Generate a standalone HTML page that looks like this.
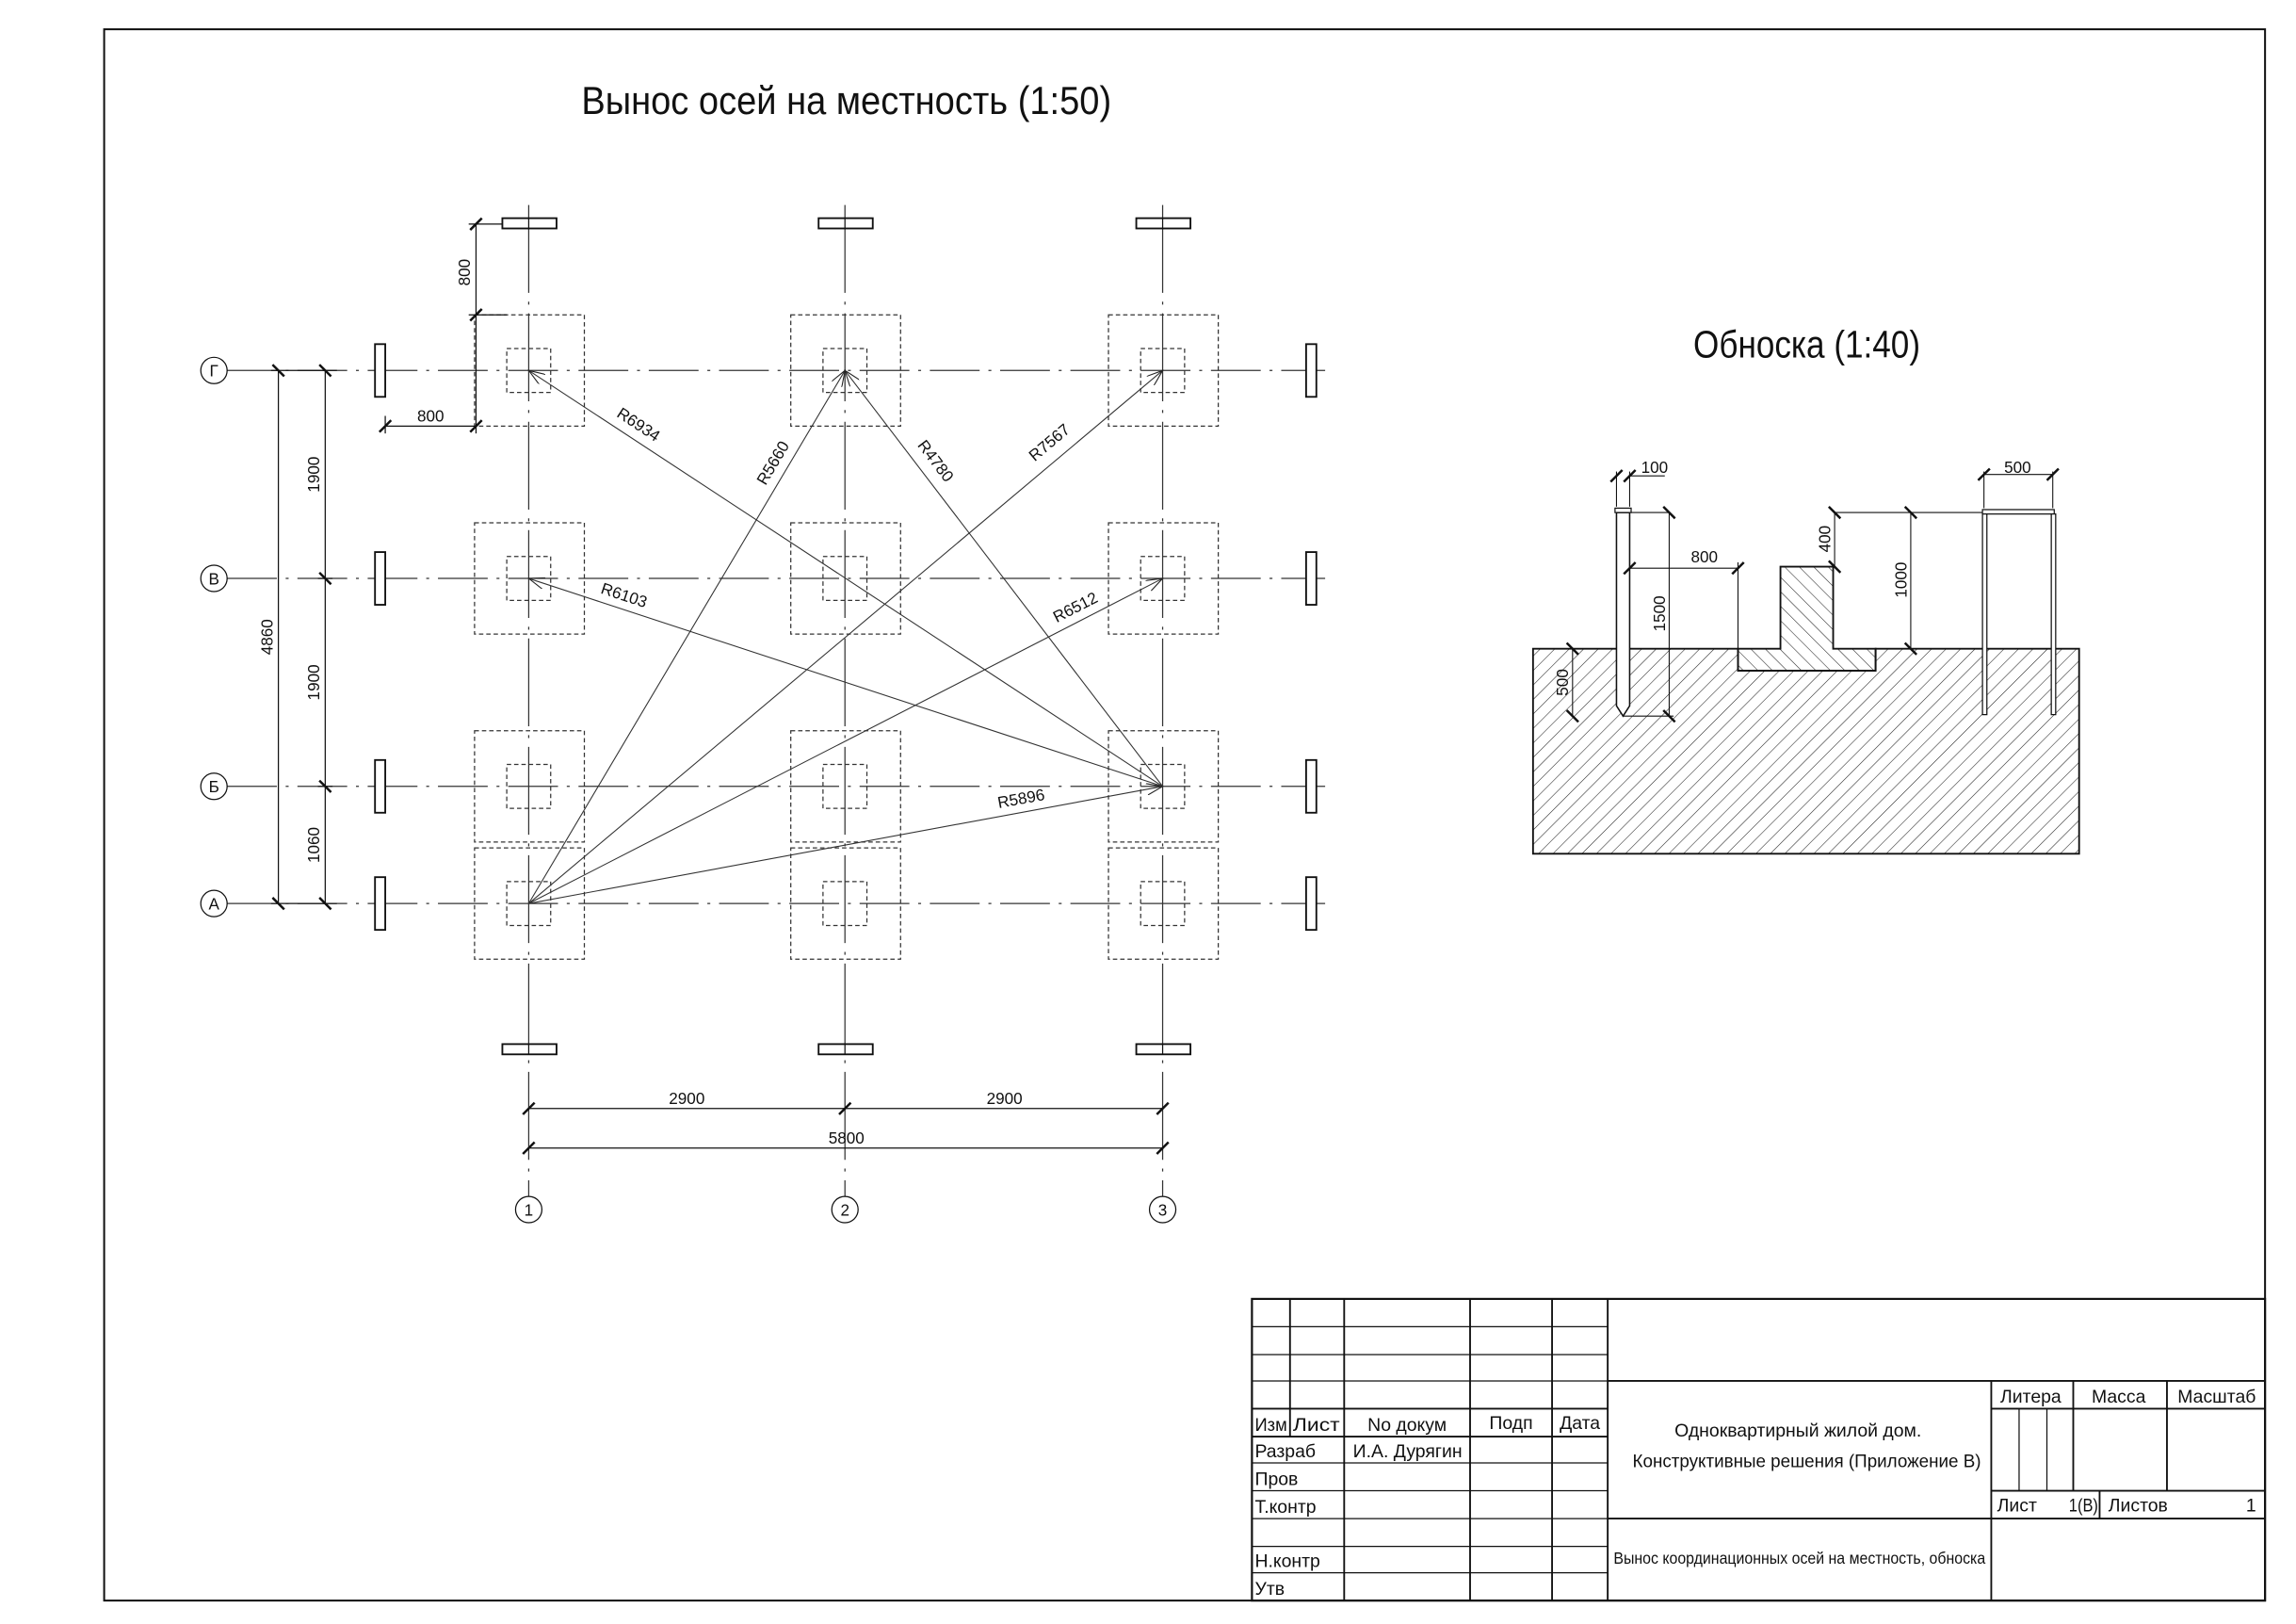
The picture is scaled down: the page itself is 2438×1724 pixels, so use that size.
<!DOCTYPE html>
<html><head><meta charset="utf-8"><style>
html,body{margin:0;padding:0;background:#fff}
svg{display:block}
text{font-family:"Liberation Sans Narrow","Liberation Sans",sans-serif;fill:#111}
</style></head><body>
<svg width="2438" height="1724" viewBox="0 0 1568 1109" xmlns="http://www.w3.org/2000/svg">
<defs>
<pattern id="h1" width="7" height="7" patternUnits="userSpaceOnUse" patternTransform="rotate(45)">
<line x1="0" y1="0" x2="0" y2="7" stroke="#222" stroke-width="0.7"/></pattern>
<pattern id="h2" width="7" height="7" patternUnits="userSpaceOnUse" patternTransform="rotate(-45)">
<line x1="0" y1="0" x2="0" y2="7" stroke="#222" stroke-width="0.7"/></pattern>
<marker id="ar" markerWidth="12" markerHeight="8" refX="11" refY="4" orient="auto" markerUnits="userSpaceOnUse">
<path d="M0,0 L11,4 L0,8" fill="none" stroke="#222" stroke-width="0.7"/></marker>
</defs>
<rect x="71" y="20" width="1476" height="1073" fill="none" stroke="#111" stroke-width="1.3"/>

<text x="578" y="78" font-size="27" text-anchor="middle" textLength="362" lengthAdjust="spacingAndGlyphs">Вынос осей на местность (1:50)</text>

<g stroke="#333" stroke-width="0.8" stroke-dasharray="34 6 2 6">
<line x1="155" y1="253" x2="905" y2="253"/>
<line x1="155" y1="395" x2="905" y2="395"/>
<line x1="155" y1="537" x2="905" y2="537"/>
<line x1="155" y1="617" x2="905" y2="617"/>
</g>
<g stroke="#333" stroke-width="0.8" stroke-dasharray="60 6 2 6">
<line x1="361" y1="140" x2="361" y2="817"/>
<line x1="577" y1="140" x2="577" y2="817"/>
<line x1="794" y1="140" x2="794" y2="817"/>
</g>
<g fill="none" stroke="#333" stroke-width="0.8" stroke-dasharray="3 2">
<rect x="324" y="215" width="75" height="76"/><rect x="540" y="215" width="75" height="76"/><rect x="757" y="215" width="75" height="76"/>
<rect x="324" y="357" width="75" height="76"/><rect x="540" y="357" width="75" height="76"/><rect x="757" y="357" width="75" height="76"/>
<rect x="324" y="499" width="75" height="76"/><rect x="540" y="499" width="75" height="76"/><rect x="757" y="499" width="75" height="76"/>
<rect x="324" y="579" width="75" height="76"/><rect x="540" y="579" width="75" height="76"/><rect x="757" y="579" width="75" height="76"/>
<rect x="346" y="238" width="30" height="30"/><rect x="562" y="238" width="30" height="30"/><rect x="779" y="238" width="30" height="30"/>
<rect x="346" y="380" width="30" height="30"/><rect x="562" y="380" width="30" height="30"/><rect x="779" y="380" width="30" height="30"/>
<rect x="346" y="522" width="30" height="30"/><rect x="562" y="522" width="30" height="30"/><rect x="779" y="522" width="30" height="30"/>
<rect x="346" y="602" width="30" height="30"/><rect x="562" y="602" width="30" height="30"/><rect x="779" y="602" width="30" height="30"/>
</g>
<g fill="#fff" stroke="#111" stroke-width="1.2">
<rect x="343" y="149" width="37" height="7"/><rect x="559" y="149" width="37" height="7"/><rect x="776" y="149" width="37" height="7"/>
<rect x="343" y="713" width="37" height="7"/><rect x="559" y="713" width="37" height="7"/><rect x="776" y="713" width="37" height="7"/>
<rect x="256" y="235" width="7" height="36"/><rect x="256" y="377" width="7" height="36"/><rect x="256" y="519" width="7" height="36"/><rect x="256" y="599" width="7" height="36"/>
<rect x="892" y="235" width="7" height="36"/><rect x="892" y="377" width="7" height="36"/><rect x="892" y="519" width="7" height="36"/><rect x="892" y="599" width="7" height="36"/>
</g>
<g stroke="#111" stroke-width="0.8">
<line x1="361" y1="149" x2="361" y2="156"/><line x1="577" y1="149" x2="577" y2="156"/><line x1="794" y1="149" x2="794" y2="156"/>
<line x1="361" y1="713" x2="361" y2="720"/><line x1="577" y1="713" x2="577" y2="720"/><line x1="794" y1="713" x2="794" y2="720"/>
</g>
<g fill="#fff" stroke="#111" stroke-width="0.8">
<circle cx="146" cy="253" r="9"/><circle cx="146" cy="395" r="9"/><circle cx="146" cy="537" r="9"/><circle cx="146" cy="617" r="9"/>
<circle cx="361" cy="826" r="9"/><circle cx="577" cy="826" r="9"/><circle cx="794" cy="826" r="9"/>
</g>
<g font-size="11" text-anchor="middle">
<text x="146" y="257">Г</text><text x="146" y="399">В</text><text x="146" y="541">Б</text><text x="146" y="621">А</text>
<text x="361" y="830">1</text><text x="577" y="830">2</text><text x="794" y="830">3</text>
</g>
<g stroke="#111" stroke-width="0.8">
<line x1="190" y1="253" x2="190" y2="617"/><line x1="222" y1="253" x2="222" y2="617"/>
<line x1="185" y1="253" x2="230" y2="253"/><line x1="185" y1="617" x2="230" y2="617"/>
<line x1="217" y1="395" x2="227" y2="395"/><line x1="217" y1="537" x2="227" y2="537"/>
<line x1="325" y1="153" x2="325" y2="215"/><line x1="320" y1="153" x2="343" y2="153"/><line x1="320" y1="215" x2="346" y2="215"/>
<line x1="263" y1="291" x2="325" y2="291"/><line x1="263" y1="284" x2="263" y2="296"/><line x1="325" y1="215" x2="325" y2="296"/>
<line x1="361" y1="757" x2="794" y2="757"/><line x1="361" y1="784" x2="794" y2="784"/>
</g>
<g stroke="#111" stroke-width="1.6">
<line x1="186" y1="249" x2="194" y2="257"/><line x1="186" y1="613" x2="194" y2="621"/>
<line x1="218" y1="249" x2="226" y2="257"/><line x1="218" y1="391" x2="226" y2="399"/><line x1="218" y1="533" x2="226" y2="541"/><line x1="218" y1="613" x2="226" y2="621"/>
<line x1="321" y1="157" x2="329" y2="149"/><line x1="321" y1="219" x2="329" y2="211"/>
<line x1="259" y1="295" x2="267" y2="287"/><line x1="321" y1="295" x2="329" y2="287"/>
<line x1="357" y1="761" x2="365" y2="753"/><line x1="573" y1="761" x2="581" y2="753"/><line x1="790" y1="761" x2="798" y2="753"/>
<line x1="357" y1="788" x2="365" y2="780"/><line x1="790" y1="788" x2="798" y2="780"/>
</g>
<g font-size="11" text-anchor="middle">
<text transform="translate(186,435) rotate(-90)">4860</text>
<text transform="translate(218,324) rotate(-90)">1900</text>
<text transform="translate(218,466) rotate(-90)">1900</text>
<text transform="translate(218,577) rotate(-90)">1060</text>
<text transform="translate(321,186) rotate(-90)">800</text>
<text x="294" y="288">800</text>
<text x="469" y="754">2900</text><text x="686" y="754">2900</text><text x="578" y="781">5800</text>
</g>
<g stroke="#333" stroke-width="0.7" marker-end="url(#ar)">
<line x1="361" y1="617" x2="577" y2="253"/>
<line x1="361" y1="617" x2="794" y2="253"/>
<line x1="361" y1="617" x2="794" y2="395"/>
<line x1="361" y1="617" x2="794" y2="537"/>
<line x1="794" y1="537" x2="361" y2="253"/>
<line x1="794" y1="537" x2="577" y2="253"/>
<line x1="794" y1="537" x2="361" y2="395"/>
</g>
<g font-size="11" text-anchor="middle">
<text transform="translate(434,293) rotate(33.3)">R6934</text>
<text transform="translate(531,318) rotate(-59.3)">R5660</text>
<text transform="translate(636,317) rotate(52.6)">R4780</text>
<text transform="translate(719,305) rotate(-40)">R7567</text>
<text transform="translate(425,410) rotate(18.2)">R6103</text>
<text transform="translate(736,418) rotate(-27)">R6512</text>
<text transform="translate(698,549) rotate(-10.5)">R5896</text>
</g>

<text x="1234" y="244" font-size="26" text-anchor="middle" textLength="155" lengthAdjust="spacingAndGlyphs">Обноска (1:40)</text>
<path d="M1047,443 H1187 V458 H1281 V443 H1420 V583 H1047 Z" fill="url(#h1)" stroke="#111" stroke-width="1.2"/>
<path d="M1216,387 H1252 V443 H1281 V458 H1187 V443 H1216 Z" fill="url(#h2)" stroke="#111" stroke-width="1.2"/>
<path d="M1104,350 H1113 V482 L1108.5,489 L1104,482 Z" fill="#fff" stroke="#111" stroke-width="1"/>
<rect x="1103" y="347" width="11" height="3" fill="#fff" stroke="#111" stroke-width="0.8"/>
<g fill="#fff" stroke="#111" stroke-width="0.8">
<rect x="1354" y="348" width="49" height="3"/>
<rect x="1354" y="351" width="3" height="137"/><rect x="1401" y="351" width="3" height="137"/>
</g>
<g stroke="#111" stroke-width="0.7">
<line x1="1104" y1="322" x2="1104" y2="346"/><line x1="1113" y1="322" x2="1113" y2="346"/><line x1="1113" y1="325" x2="1137" y2="325"/>
<line x1="1114" y1="350" x2="1140" y2="350"/><line x1="1140" y1="350" x2="1140" y2="489"/><line x1="1108" y1="489" x2="1143" y2="489"/>
<line x1="1074" y1="443" x2="1074" y2="489"/>
<line x1="1113" y1="388" x2="1187" y2="388"/><line x1="1187" y1="384" x2="1187" y2="443"/>
<line x1="1253" y1="350" x2="1253" y2="387"/><line x1="1253" y1="350" x2="1354" y2="350"/>
<line x1="1305" y1="350" x2="1305" y2="443"/>
<line x1="1355" y1="322" x2="1355" y2="347"/><line x1="1402" y1="322" x2="1402" y2="347"/><line x1="1355" y1="324" x2="1402" y2="324"/>
</g>
<g stroke="#111" stroke-width="1.6">
<line x1="1100" y1="329" x2="1108" y2="321"/><line x1="1109" y1="329" x2="1117" y2="321"/>
<line x1="1136" y1="346" x2="1144" y2="354"/><line x1="1136" y1="485" x2="1144" y2="493"/>
<line x1="1070" y1="439" x2="1078" y2="447"/><line x1="1070" y1="485" x2="1078" y2="493"/>
<line x1="1109" y1="392" x2="1117" y2="384"/><line x1="1183" y1="392" x2="1191" y2="384"/>
<line x1="1249" y1="346" x2="1257" y2="354"/><line x1="1249" y1="383" x2="1257" y2="391"/>
<line x1="1301" y1="346" x2="1309" y2="354"/><line x1="1301" y1="439" x2="1309" y2="447"/>
<line x1="1351" y1="328" x2="1359" y2="320"/><line x1="1398" y1="328" x2="1406" y2="320"/>
</g>
<g font-size="11" text-anchor="middle">
<text x="1130" y="323">100</text><text x="1164" y="384">800</text><text x="1378" y="323">500</text>
<text transform="translate(1137,419) rotate(-90)">1500</text>
<text transform="translate(1071,466) rotate(-90)">500</text>
<text transform="translate(1250,368) rotate(-90)">400</text>
<text transform="translate(1302,396) rotate(-90)">1000</text>
</g>

<g stroke="#111" fill="none">
<rect x="855" y="887" width="692" height="206" stroke-width="1.4"/>
<g stroke-width="1.2">
<line x1="881" y1="887" x2="881" y2="981"/>
<line x1="918" y1="887" x2="918" y2="1093"/>
<line x1="1004" y1="887" x2="1004" y2="1093"/>
<line x1="1060" y1="887" x2="1060" y2="1093"/>
<line x1="1098" y1="887" x2="1098" y2="1093"/>
<line x1="1098" y1="943" x2="1547" y2="943"/>
<line x1="1098" y1="1037" x2="1547" y2="1037"/>
<line x1="1360" y1="943" x2="1360" y2="1093"/>
<line x1="1416" y1="943" x2="1416" y2="1018"/>
<line x1="1480" y1="943" x2="1480" y2="1018"/>
<line x1="1360" y1="962" x2="1547" y2="962"/>
<line x1="1360" y1="1018" x2="1547" y2="1018"/>
<line x1="1434" y1="1018" x2="1434" y2="1037"/>
<line x1="855" y1="962" x2="1098" y2="962"/>
<line x1="855" y1="981" x2="1098" y2="981"/>
</g>
<g stroke-width="0.8">
<line x1="1379" y1="962" x2="1379" y2="1018"/><line x1="1398" y1="962" x2="1398" y2="1018"/>
<line x1="855" y1="906" x2="1098" y2="906"/><line x1="855" y1="925" x2="1098" y2="925"/><line x1="855" y1="943" x2="1098" y2="943"/>
<line x1="855" y1="999" x2="1098" y2="999"/><line x1="855" y1="1018" x2="1098" y2="1018"/><line x1="855" y1="1037" x2="1098" y2="1037"/>
<line x1="855" y1="1056" x2="1098" y2="1056"/><line x1="855" y1="1074" x2="1098" y2="1074"/>
</g>
</g>
<g font-size="12.5">
<text x="857" y="977" textLength="22" lengthAdjust="spacingAndGlyphs">Изм</text><text x="883" y="977" textLength="32" lengthAdjust="spacingAndGlyphs">Лист</text>
<text x="961" y="977" text-anchor="middle">No докум</text>
<text x="1032" y="976" text-anchor="middle">Подп</text>
<text x="1079" y="976" text-anchor="middle">Дата</text>
<text x="857" y="995">Разраб</text><text x="924" y="995">И.А. Дурягин</text>
<text x="857" y="1014">Пров</text><text x="857" y="1033">Т.контр</text>
<text x="857" y="1070">Н.контр</text><text x="857" y="1089">Утв</text>
<text x="1228" y="981" text-anchor="middle">Одноквартирный жилой дом.</text>
<text x="1234" y="1002" text-anchor="middle" textLength="238" lengthAdjust="spacingAndGlyphs">Конструктивные решения (Приложение В)</text>
<text x="1229" y="1068" text-anchor="middle" font-size="11" textLength="254" lengthAdjust="spacingAndGlyphs">Вынос координационных осей на местность, обноска</text>
<text x="1387" y="958" text-anchor="middle">Литера</text>
<text x="1447" y="958" text-anchor="middle">Масса</text>
<text x="1514" y="958" text-anchor="middle">Масштаб</text>
<text x="1364" y="1032">Лист</text><text x="1413" y="1032" textLength="20" lengthAdjust="spacingAndGlyphs">1(В)</text>
<text x="1440" y="1032">Листов</text><text x="1534" y="1032">1</text>
</g>
</svg>
</body></html>
